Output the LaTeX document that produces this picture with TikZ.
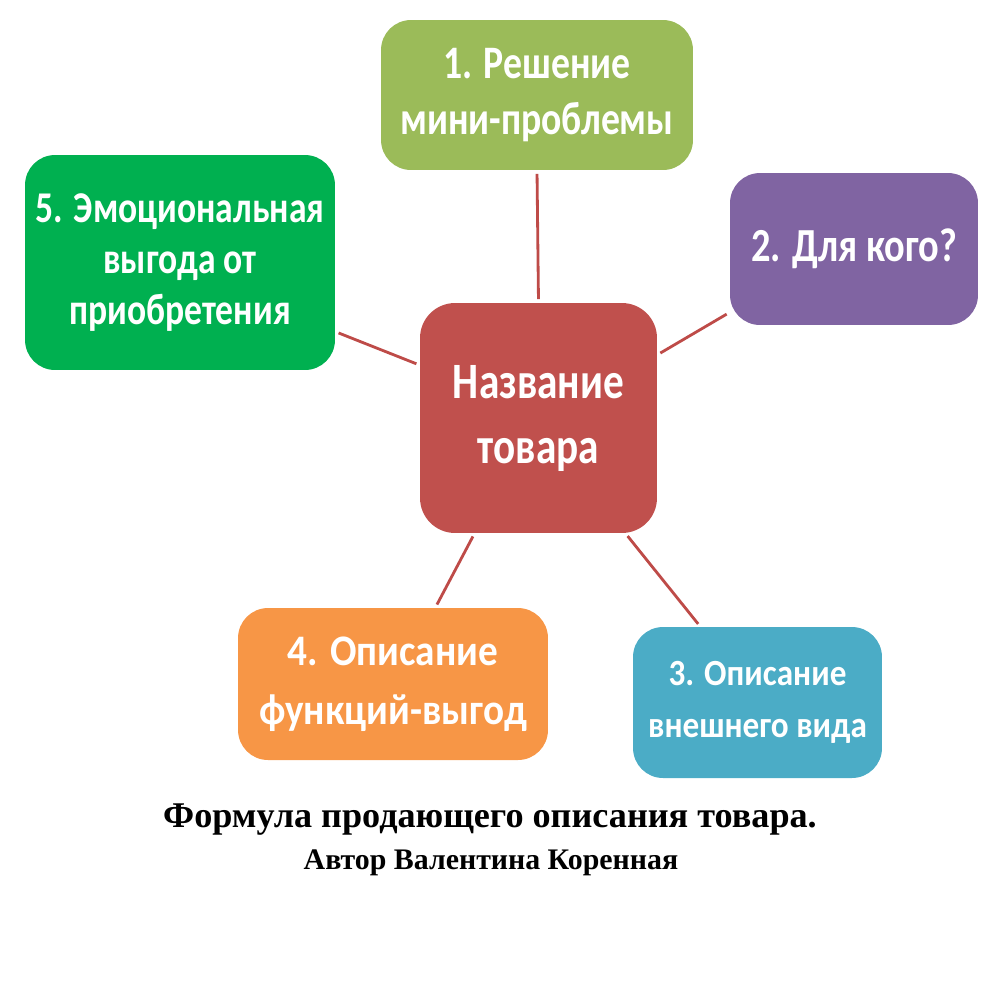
\documentclass[tikz,border=0pt]{standalone}
\usepackage{fontspec}
\newfontfamily\boxfont[FakeStretch=0.81]{Carlito}
\newfontfamily\boxfontwide[FakeStretch=0.9]{Carlito}
\newfontfamily\capfont{Liberation Serif}
\usetikzlibrary{positioning}
\definecolor{hubred}{HTML}{C0504D}
\definecolor{linkred}{HTML}{BE4B48}
\definecolor{stepolive}{HTML}{9BBB59}
\definecolor{steppurple}{HTML}{8064A2}
\definecolor{stepteal}{HTML}{4BACC6}
\definecolor{steporange}{HTML}{F79646}
\definecolor{stepgreen}{HTML}{00B050}
\tikzset{%
	item/.style={rectangle, rounded corners=0.6cm, text=white, align=center, inner sep=0mm},
	txt/.style 2 args={font=\boxfont\bfseries\fontsize{#1}{#2}\selectfont},
	wtxt/.style 2 args={font=\boxfontwide\bfseries\fontsize{#1}{#2}\selectfont},
	hub/.style={item, fill=hubred, rounded corners=0.7cm, minimum width=4.74cm, minimum height=4.6cm},
	link/.style={draw=linkred, line width=1.6pt, shorten >=2pt, shorten <=2pt},
	caption/.style={inner sep=0mm, anchor=base}
}

\begin{document}
\begin{tikzpicture}[x=0.02cm, y=-0.02cm]
	\useasboundingbox (0,0) rectangle (1000,992);

	\node[hub, txt={29}{37}] (hub) at (538.5,418) {Название\\товара};
	\node[item, fill=stepolive, minimum width=6.24cm, minimum height=3cm, txt={26.5}{32.4}] (s1) at (537,95) {1. Решение\\мини-проблемы};
	\node[item, fill=steppurple, minimum width=4.96cm, minimum height=3.04cm, txt={27}{32}] (s2) at (854,249) {2. Для кого?};
	\node[item, fill=stepteal, minimum width=4.98cm, minimum height=3.02cm, wtxt={21}{30}] (s3) at (757.5,702.5) {3. Описание\\внешнего вида};
	\node[item, fill=steporange, minimum width=6.2cm, minimum height=3.04cm, wtxt={24.8}{33.6}] (s4) at (393,684) {4. Описание\\функций-выгод};
	\node[item, fill=stepgreen, minimum width=6.2cm, minimum height=4.3cm, txt={25}{29}] (s5) at (180,262.5) {5. Эмоциональная\\выгода от\\приобретения};

	\draw[link] (s1.south) -- (hub.north);
	\draw[link] (s2.207.7) -- (hub.28.9);
	\draw[link] (hub.307.4) -- (s3.127.3);
	\draw[link] (hub.241) -- (s4.61.8);
	\draw[link] (s5.336.8) -- (hub.156.6);

	\node[caption, font=\capfont\bfseries\fontsize{20.6}{24}\selectfont] (title) at (490,827) {Формула продающего описания товара.};
	\node[caption, font=\capfont\bfseries\fontsize{17}{20}\selectfont] (author) at (491,869) {Автор Валентина Коренная};
\end{tikzpicture}
\end{document}
